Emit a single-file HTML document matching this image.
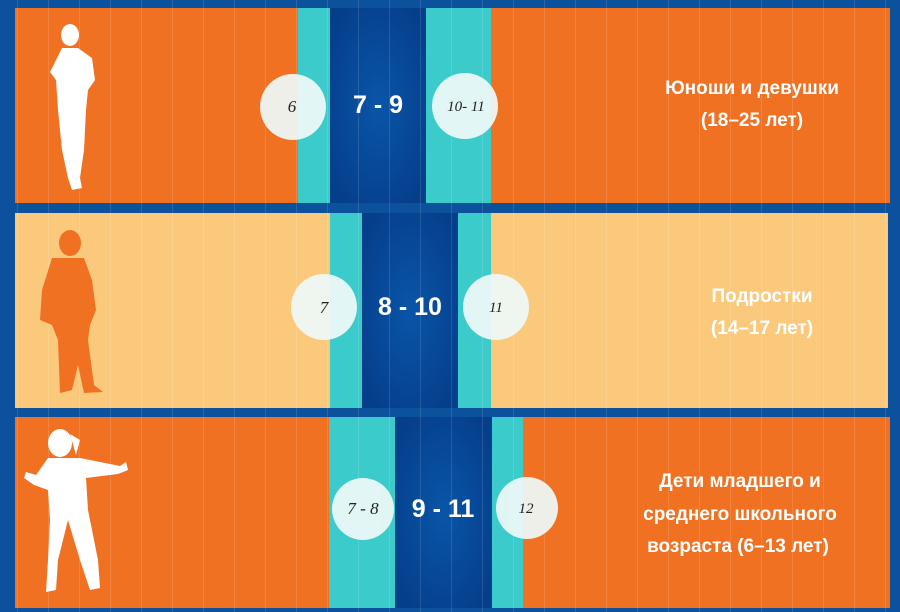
<!DOCTYPE html>
<html><head><meta charset="utf-8"><style>
html,body{margin:0;padding:0;background:#0c519b;}
svg{display:block}
</style></head><body>
<svg width="900" height="612" xmlns="http://www.w3.org/2000/svg">
<defs>
<radialGradient id="nv" cx="50%" cy="50%" r="60%"><stop offset="0" stop-color="#0a55a8"/><stop offset="1" stop-color="#053f8c"/></radialGradient>
<pattern id="ln" width="31" height="10" patternUnits="userSpaceOnUse" x="17"><rect x="0" y="0" width="1" height="10" fill="#ffffff" opacity="0.12"/></pattern>
</defs>
<rect width="900" height="612" fill="#0c519b"/>
<rect x="15" y="8" width="875" height="195" fill="#f07122"/>
<rect x="298" y="8" width="32" height="195" fill="#3ccbcb"/>
<rect x="330" y="8" width="96" height="195" fill="url(#nv)"/>
<rect x="426" y="8" width="65" height="195" fill="#3ccbcb"/>
<rect x="15" y="213" width="873" height="195" fill="#fbc97c"/>
<rect x="330" y="213" width="32" height="195" fill="#3ccbcb"/>
<rect x="362" y="213" width="96" height="195" fill="url(#nv)"/>
<rect x="458" y="213" width="33" height="195" fill="#3ccbcb"/>
<rect x="15" y="417" width="875" height="191" fill="#f07122"/>
<rect x="329" y="417" width="66" height="191" fill="#3ccbcb"/>
<rect x="395" y="417" width="97" height="191" fill="url(#nv)"/>
<rect x="492" y="417" width="31" height="191" fill="#3ccbcb"/>
<rect x="0" y="0" width="900" height="612" fill="url(#ln)"/>
<g fill="#ffffff">
<ellipse cx="70" cy="35" rx="9" ry="11"/>
<path d="M62 48 L78 48 L92 58 L95 80 L88 90 L86 110 L84 150 L80 178 L82 188 L72 190 L68 178 L62 150 L58 110 L56 80 L50 72 Z"/>
</g>
<g fill="#f07122">
<ellipse cx="70" cy="243" rx="11" ry="13"/>
<path d="M52 258 L84 258 L92 280 L96 310 L90 325 L88 340 L94 385 L103 392 L84 393 L78 365 L72 390 L60 393 L58 340 L52 325 L40 320 L42 290 Z"/>
</g>
<g fill="#ffffff">
<ellipse cx="60" cy="443" rx="12" ry="14"/>
<path d="M70 434 L80 440 L76 455 Z"/>
<path d="M48 458 L80 458 L120 466 L126 462 L128 470 L118 474 L86 478 L88 510 L98 560 L100 588 L90 590 L80 560 L68 520 L58 560 L56 590 L46 592 L48 560 L50 520 L48 490 L34 485 L24 478 L26 472 L36 475 Z"/>
</g>
<g fill="#eef9f7" opacity="0.93">
<circle cx="293" cy="107" r="33"/><circle cx="465" cy="106" r="33"/>
<circle cx="324" cy="307" r="33"/><circle cx="496" cy="307" r="33"/>
<circle cx="363" cy="509" r="31"/><circle cx="527" cy="508" r="31"/>
</g>
<g font-family="Liberation Serif, serif" font-style="italic" fill="#222" text-anchor="middle" font-size="17">
<text x="292" y="112">6</text><text x="466" y="111" font-size="15">10- 11</text>
<text x="324" y="313">7</text><text x="496" y="312" font-size="15">11</text>
<text x="363" y="514">7 - 8</text><text x="526" y="513" font-size="15">12</text>
</g>
<g font-family="Liberation Sans, sans-serif" font-weight="bold" fill="#ffffff" text-anchor="middle" font-size="25">
<text x="378" y="113">7 - 9</text>
<text x="410" y="315">8 - 10</text>
<text x="443" y="517">9 - 11</text>
</g>
<g font-family="Liberation Sans, sans-serif" fill="#ffffff" text-anchor="middle" font-size="19" font-weight="600">
<text x="752" y="94">Юноши и девушки</text>
<text x="752" y="126">(18–25 лет)</text>
<text x="762" y="302">Подростки</text>
<text x="762" y="334">(14–17 лет)</text>
<text x="740" y="487">Дети младшего и</text>
<text x="740" y="520">среднего школьного</text>
<text x="738" y="552">возраста (6–13 лет)</text>
</g>
</svg>
</body></html>
